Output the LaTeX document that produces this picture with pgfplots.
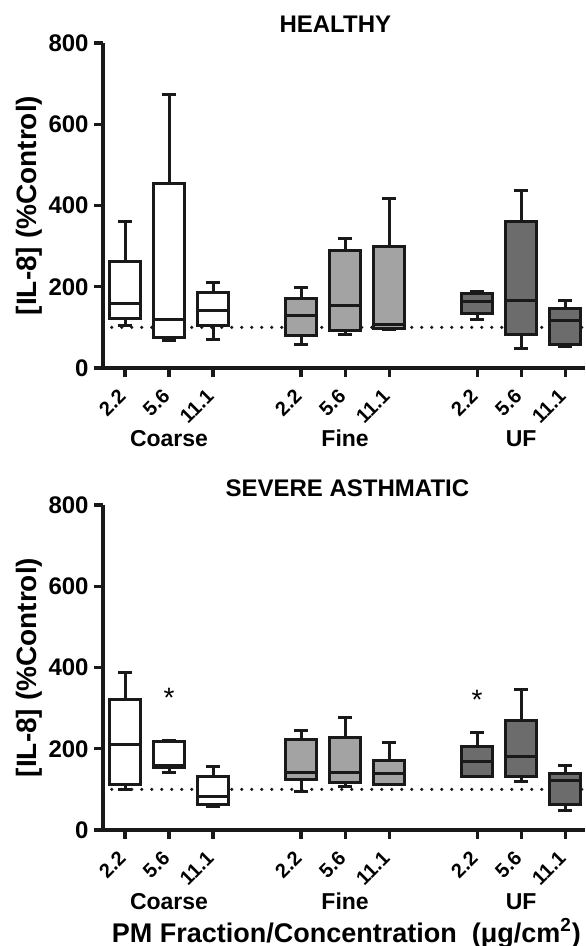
\documentclass[border=0pt]{standalone}
\usepackage{fontspec}
\setmainfont{Liberation Sans}
\usepackage{pgfplots}
\pgfplotsset{compat=1.18}
\usepgfplotslibrary{statistics}

\definecolor{lightbox}{RGB}{163,163,163}
\definecolor{darkbox}{RGB}{108,108,108}
\definecolor{edge}{RGB}{25,25,25}

\pgfplotsset{
  il8/.style={
    scale only axis, width=241pt, height=162.5pt,
    xmin=0.5, xmax=11.45, ymin=0, ymax=800,
    axis x line=bottom, axis y line=left,
    axis line style={-, line width=1.6pt, edge},
    xtick={1,2,3,5,6,7,9,10,11},
    xticklabels={2.2,5.6,11.1,2.2,5.6,11.1,2.2,5.6,11.1},
    ytick={0,200,400,600,800},
    tick align=outside, major tick length=4.5pt,
    tick style={line width=1.6pt, edge},
    /pgf/number format/assume math mode=true,
    yticklabel style={font=\bfseries\fontsize{12}{13}\selectfont, inner sep=1pt, xshift=-1.5pt},
    xticklabel style={font=\bfseries\fontsize{10}{12}\selectfont,
      xshift=-1pt, yshift=-7.5pt, rotate=45, anchor=east, inner sep=0.5pt},
    ylabel={[IL-8] (\%Control)},
    ylabel style={font=\bfseries\fontsize{14}{15}\selectfont,
      at={(axis description cs:-0.1535,0.5)}, anchor=center},
    every axis title shift=0pt,
    title style={font=\bfseries\fontsize{12}{14}\selectfont, anchor=base},
    clip=false,
    boxplot/draw direction=y,
    boxplot/box extend=0.7,
    boxplot/whisker extend=0.32,
  },
  bx/.style={draw=edge, line width=1.5pt},
  ref100/.style={edge, line width=1.7pt, line cap=round, dash pattern=on 0pt off 5pt},
}
\tikzset{grp/.style={font=\bfseries\fontsize{11.5}{13}\selectfont, anchor=base, yshift=-39.5pt}}

\begin{document}
\begin{tikzpicture}

% HEALTHY
\begin{axis}[il8, at={(0,0)},
    title={HEALTHY}, title style={at={(0.482,1)}, yshift=5pt}]
\addplot[ref100] coordinates {(0.7,100) (11.45,100)};

\addplot[bx, fill=white, boxplot prepared={draw position=1,
  lower whisker=105, lower quartile=123, median=159, upper quartile=261, upper whisker=360}] coordinates {};
\addplot[bx, fill=white, boxplot prepared={draw position=2,
  lower whisker=67, lower quartile=75, median=119, upper quartile=455, upper whisker=673}] coordinates {};
\addplot[bx, fill=white, boxplot prepared={draw position=3,
  lower whisker=71, lower quartile=105, median=142, upper quartile=186, upper whisker=210}] coordinates {};

\addplot[bx, fill=lightbox, boxplot prepared={draw position=5,
  lower whisker=58, lower quartile=81, median=130, upper quartile=171, upper whisker=197}] coordinates {};
\addplot[bx, fill=lightbox, boxplot prepared={draw position=6,
  lower whisker=83, lower quartile=93, median=155, upper quartile=290, upper whisker=318}] coordinates {};
\addplot[bx, fill=lightbox, boxplot prepared={draw position=7,
  lower whisker=95, lower quartile=97, median=107, upper quartile=300, upper whisker=416}] coordinates {};

\addplot[bx, fill=darkbox, boxplot prepared={draw position=9,
  lower whisker=119, lower quartile=134, median=163, upper quartile=183, upper whisker=189}] coordinates {};
\addplot[bx, fill=darkbox, boxplot prepared={draw position=10,
  lower whisker=49, lower quartile=82, median=165, upper quartile=360, upper whisker=438}] coordinates {};
\addplot[bx, fill=darkbox, boxplot prepared={draw position=11,
  lower whisker=52, lower quartile=58, median=116, upper quartile=147, upper whisker=165}] coordinates {};

\node[grp] at (axis cs:2,0) {Coarse};
\node[grp] at (axis cs:6,0) {Fine};
\node[grp] at (axis cs:10,0) {UF};
\end{axis}

% SEVERE ASTHMATIC
\begin{axis}[il8, at={(0,-231pt)},
    title={SEVERE ASTHMATIC}, title style={at={(0.507,1)}, yshift=4pt},
    xlabel={PM Fraction/Concentration\ \ (μg/cm\textsuperscript{2})},
    xlabel style={font=\bfseries\fontsize{13.5}{15}\selectfont,
      at={(axis description cs:0.505,0)}, anchor=base, yshift=-56pt}]
\addplot[ref100] coordinates {(0.7,100) (11.45,100)};

\addplot[bx, fill=white, boxplot prepared={draw position=1,
  lower whisker=100, lower quartile=111, median=211, upper quartile=322, upper whisker=388}] coordinates {};
\addplot[bx, fill=white, boxplot prepared={draw position=2,
  lower whisker=142, lower quartile=154, median=158, upper quartile=217, upper whisker=220}] coordinates {};
\addplot[bx, fill=white, boxplot prepared={draw position=3,
  lower whisker=57, lower quartile=64, median=82, upper quartile=131, upper whisker=156}] coordinates {};

\addplot[bx, fill=lightbox, boxplot prepared={draw position=5,
  lower whisker=96, lower quartile=125, median=142, upper quartile=224, upper whisker=244}] coordinates {};
\addplot[bx, fill=lightbox, boxplot prepared={draw position=6,
  lower whisker=107, lower quartile=117, median=142, upper quartile=228, upper whisker=277}] coordinates {};
\addplot[bx, fill=lightbox, boxplot prepared={draw position=7,
  lower whisker=113, lower quartile=113, median=139, upper quartile=171, upper whisker=216}] coordinates {};

\addplot[bx, fill=darkbox, boxplot prepared={draw position=9,
  lower whisker=131, lower quartile=131, median=168, upper quartile=205, upper whisker=240}] coordinates {};
\addplot[bx, fill=darkbox, boxplot prepared={draw position=10,
  lower whisker=119, lower quartile=131, median=182, upper quartile=269, upper whisker=345}] coordinates {};
\addplot[bx, fill=darkbox, boxplot prepared={draw position=11,
  lower whisker=49, lower quartile=62, median=123, upper quartile=138, upper whisker=158}] coordinates {};

% significance marks
\addplot[draw=none, nodes near coords={*},
  every node near coord/.append style={font=\fontsize{14}{14}\selectfont, anchor=center, inner sep=0pt}]
  coordinates {(2,326) (9,320)};

\node[grp] at (axis cs:2,0) {Coarse};
\node[grp] at (axis cs:6,0) {Fine};
\node[grp] at (axis cs:10,0) {UF};
\end{axis}

\pgfresetboundingbox
\path[use as bounding box] (-51.5pt,-289pt) rectangle (241pt,184pt);
\end{tikzpicture}
\end{document}
